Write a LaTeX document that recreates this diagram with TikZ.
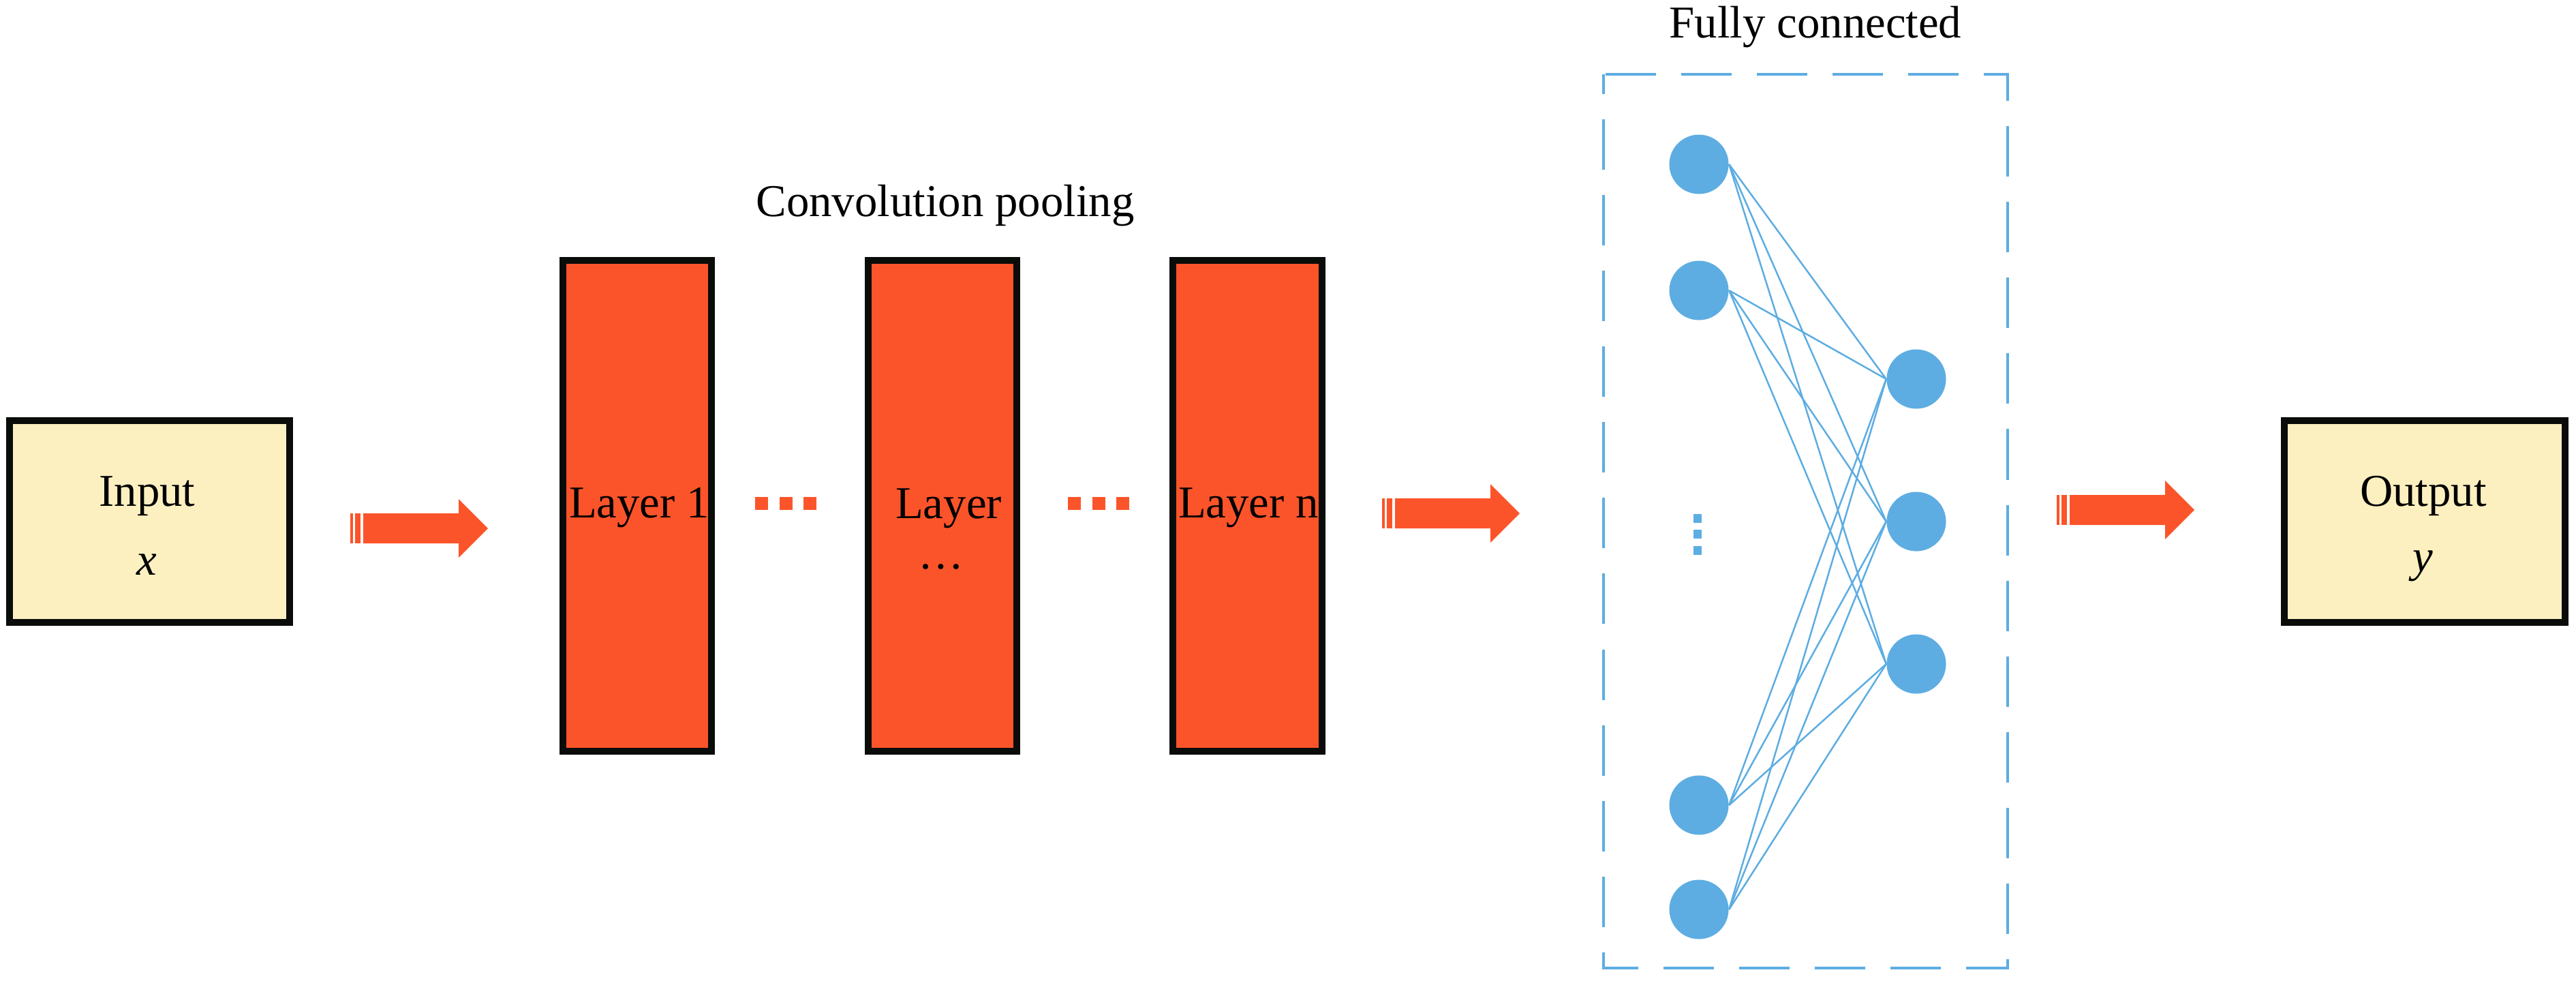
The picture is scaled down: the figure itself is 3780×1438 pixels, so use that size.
\documentclass[tikz,border=0pt]{standalone}
\usepackage{fontspec}
\setmainfont{Liberation Serif}
\definecolor{orng}{RGB}{252,84,42}
\definecolor{cream}{RGB}{252,240,193}
\definecolor{nblue}{RGB}{93,173,226}
\definecolor{edge}{RGB}{10,12,10}
\begin{document}
\begin{tikzpicture}[x=0.01cm,y=-0.01cm,
  lbl/.style={anchor=base,inner sep=0pt,font=\fontsize{19}{23}\selectfont},
  iobox/.style={draw=edge,fill=cream,line width=0.1cm,minimum width=4.11cm,minimum height=2.96cm,inner sep=0pt},
  layerbox/.style={draw=edge,fill=orng,line width=0.1cm,minimum width=2.18cm,minimum height=7.2cm,inner sep=0pt},
  neuron/.style={circle,fill=nblue,minimum size=0.87cm,inner sep=0pt},
  link/.style={draw=nblue,line width=0.025cm},
  sqdot/.style={fill=orng},
  vdot/.style={fill=nblue},
  fcbox/.style={draw=nblue,line width=0.04cm,dash pattern=on 0.74cm off 0.37cm,dash phase=0.45cm},
  blockarrow/.pic={
    \fill[orng] (0,-22) rectangle (4,22);
    \fill[orng] (7,-22) rectangle (15,22);
    \fill[orng] (19,-22) -- (159,-22) -- (159,-43) -- (202,0) -- (159,43) -- (159,22) -- (19,22) -- cycle;
  }
]
\useasboundingbox (0,0) rectangle (3780,1438);

% input / output
\node[iobox] (in) at (219.5,765) {};
\node[lbl] (inT) at (216,742) {Input};
\node[lbl] (inX) at (215,843) {\textit{x}};
\node[iobox] (out) at (3558,765) {};
\node[lbl] (outT) at (3556,742) {Output};
\node[lbl] (outY) at (3555,838) {\textit{y}};

% convolution layers
\node[lbl] (convT) at (1387,317) {Convolution pooling};
\node[layerbox] (L1) at (935,742) {};
\node[layerbox] (L2) at (1383,742) {};
\node[layerbox] (Ln) at (1830.5,742) {};
\node[lbl] (L1T) at (938,759) {Layer 1};
\node[lbl] (L2T) at (1392,760) {Layer};
\node[lbl] (L2D) at (1381,834) {…};
\node[lbl] (LnT) at (1832,759) {Layer n};

% dots between layers
\foreach \x in {1108,1144,1179,1567,1603,1638}
  \fill[sqdot] (\x,729) rectangle ++(19,19);

% arrows
\pic (a1) at (514,775) {blockarrow};
\pic (a2) at (2028,753) {blockarrow};
\pic (a3) at (3018,748) {blockarrow};

% fully connected
\node[lbl] (fcT) at (2664,55) {Fully connected};
\draw[fcbox] (2353,109) rectangle (2946,1420);

\node[neuron] (p1) at (2493,241) {};
\node[neuron] (p2) at (2493,426) {};
\node[neuron] (p3) at (2493,1181) {};
\node[neuron] (p4) at (2493,1334) {};
\node[neuron] (q1) at (2812,556) {};
\node[neuron] (q2) at (2812,765) {};
\node[neuron] (q3) at (2812,974) {};

\foreach \a in {p1,p2,p3,p4}
  \foreach \b in {q1,q2,q3}
    \draw[link] (\a.east) -- (\b.west);

\foreach \y in {754,777,801}
  \fill[vdot] (2485,\y) rectangle ++(12,13);
\end{tikzpicture}
\end{document}
